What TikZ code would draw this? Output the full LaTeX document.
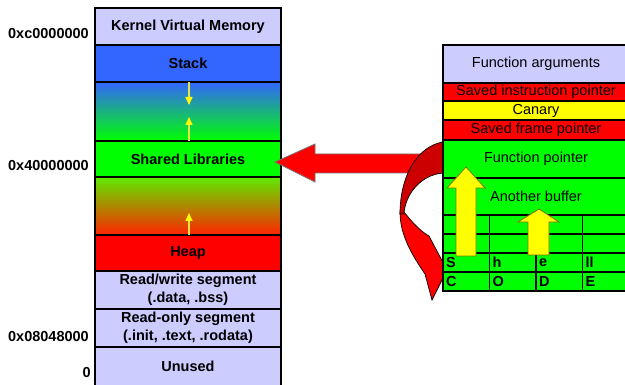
\documentclass[tikz,border=0pt]{standalone}
\usepackage{fontspec}
\setmainfont{Liberation Sans}
\usetikzlibrary{arrows.meta}
\definecolor{lav}{RGB}{204,204,255}
\definecolor{stackblue}{RGB}{51,102,255}
\definecolor{grn}{RGB}{0,255,0}
\definecolor{hred}{RGB}{255,0,0}
\definecolor{dred}{RGB}{204,0,0}
\definecolor{ylw}{RGB}{255,255,0}
\definecolor{ylwline}{RGB}{232,228,70}
\definecolor{ylwedge}{RGB}{120,120,0}
\definecolor{g2top}{RGB}{95,235,0}
\definecolor{g2mid}{RGB}{225,165,0}
\definecolor{g2bot}{RGB}{255,35,0}
\definecolor{g1mid}{RGB}{30,185,170}
\begin{document}
\begin{tikzpicture}[x=1pt,y=-1pt,
  txt/.style={font=\fontsize{14.5}{18}\selectfont},
  btxt/.style={font=\fontsize{14.5}{18}\selectfont\bfseries},
  row/.style={draw=black, line width=1.6pt, minimum width=186pt,
    inner sep=0pt, outer sep=0pt, align=center},
  lrow/.style={row, btxt},
  rrow/.style={row, txt},
  addr/.style={btxt, anchor=east, inner sep=0pt},
  cell/.style={btxt, anchor=west, inner sep=0pt},
  growarrow/.style={line width=1.5pt, draw=ylwline,
    -{Triangle[width=7pt,length=8pt,color=ylw]}},
  bigarrow/.style={fill=ylw, draw=ylwedge, line width=0.8pt, line join=miter},
  gridline/.style={draw=black, line width=1.2pt}]
\useasboundingbox (0,0) rectangle (625,385);
\clip (0,0) rectangle (625,385);

% ---------- process address space ----------
\node[lrow, fill=lav, minimum height=37pt] (kernel) at (188,26.5) {Kernel Virtual Memory};
\node[lrow, fill=stackblue, minimum height=37pt] (stack) at (188,63.5) {Stack};
\node[row, minimum height=59pt, top color=stackblue, middle color=g1mid, bottom color=grn] (gapa) at (188,111.5) {};
\node[lrow, fill=grn, minimum height=36pt] (shlib) at (188,159) {Shared Libraries};
\node[row, minimum height=58pt, top color=g2top, middle color=g2mid, bottom color=g2bot] (gapb) at (188,206) {};
\node[lrow, fill=hred, minimum height=36pt] (heap) at (188,253) {Heap};
\node[lrow, fill=lav, minimum height=38pt] (rw) at (188,290) {Read/write segment\\(.data, .bss)};
\node[lrow, fill=lav, minimum height=38pt] (ro) at (188,328) {Read-only segment\\(.init, .text, .rodata)};
\node[lrow, fill=lav, minimum height=39pt] (unused) at (188,366.5) {Unused};

% growth directions of stack and heap
\draw[growarrow] (stack.south) ++(1,0) coordinate (sg0) -- ++(0,23);
\draw[growarrow] (shlib.north) ++(1,0) coordinate (sg1) -- ++(0,-24);
\draw[growarrow] (heap.north) ++(1,0) coordinate (hg0) -- ++(0,-22);

% addresses
\node[addr] (a1) at (89,34) {0xc0000000};
\node[addr] (a2) at (89,166) {0x40000000};
\node[addr] (a3) at (89,337) {0x08048000};
\node[addr] (a4) at (91,373) {0};

% ---------- arrow towards the shared libraries ----------
\filldraw[fill=hred, draw=black!55, line width=0.8pt, line join=miter]
  (shlib.east) ++(-6,3) coordinate (tipL)
  (tipL) -- (315,144) -- (315,154) -- (432,154) -- (432,173) -- (315,173) -- (315,182) -- cycle;

% ---------- curved arrow (front face, then back face) ----------
\filldraw[fill=hred, draw=black, line width=0.7pt, line join=miter]
  (400,212) .. controls (400,235) and (412,255) .. (425,274)
  -- (432,300) -- (447,270) -- (429,236)
  .. controls (420,231) and (412,222) .. (404,212) -- cycle;
\filldraw[fill=dred, draw=black, line width=0.7pt]
  (443,142) .. controls (418,146) and (400,175) .. (400,214)
  -- (404,214) .. controls (405,195) and (420,175) .. (443,173) -- cycle;

% ---------- stack frame ----------
\node[rrow, fill=lav, minimum height=38pt] (args) at (536,64) {Function arguments};
\node[rrow, fill=hred, minimum height=18pt] (sip) at (536,92) {Saved instruction pointer};
\node[rrow, fill=ylw, minimum height=19pt] (canary) at (536,110.5) {Canary};
\node[rrow, fill=hred, minimum height=20pt] (sfp) at (536,130) {Saved frame pointer};
\node[rrow, fill=grn, minimum height=38pt] (fptr) at (536,159) {Function pointer};
\node[rrow, fill=grn, minimum height=37pt] (abuf) at (536,196.5) {\raisebox{1.5pt}{Another buffer}};
\node[row, fill=grn, minimum height=76pt] (buf) at (536,253) {};

% buffer cells
\foreach \yy in {234,253,272} \draw[gridline] (443,\yy) -- (629,\yy);
\foreach \xx in {489.5,536,582.5} \draw[gridline] (\xx,215) -- (\xx,291);

% overflow arrows
\filldraw[bigarrow] (466,167) -- (485,188) -- (476,188) -- (476,256)
  -- (456,256) -- (456,188) -- (447,188) -- cycle;
\filldraw[bigarrow] (539,209) -- (559,222) -- (549,222) -- (549,255)
  -- (528,255) -- (528,222) -- (518,222) -- cycle;

% shellcode bytes
\node[cell] (c1) at (446,262.5) {S};
\node[cell] (c2) at (492.5,262.5) {h};
\node[cell] (c3) at (539,262.5) {e};
\node[cell] (c4) at (585.5,262.5) {ll};
\node[cell] (c5) at (446,281.5) {C};
\node[cell] (c6) at (492.5,281.5) {O};
\node[cell] (c7) at (539,281.5) {D};
\node[cell] (c8) at (585.5,281.5) {E};
\end{tikzpicture}
\end{document}
